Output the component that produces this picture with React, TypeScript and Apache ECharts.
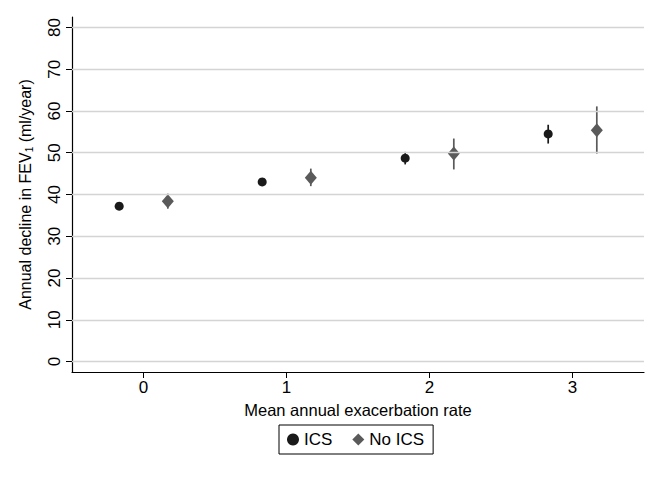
import React, { useEffect, useRef } from "react";
import * as echarts from "echarts";

const yTicks = [0, 10, 20, 30, 40, 50, 60, 70, 80];
const xTicks = [0, 1, 2, 3];

const icsX = [-0.17, 0.83, 1.83, 2.83];
const icsMean = [37.2, 43.0, 48.7, 54.5];
const icsLow = [36.6, 42.4, 47.2, 52.2];
const icsHigh = [37.8, 43.6, 50.2, 56.7];

const noIcsX = [0.17, 1.17, 2.17, 3.17];
const noIcsMean = [38.4, 44.0, 49.8, 55.4];
const noIcsLow = [36.6, 42.0, 46.0, 49.8];
const noIcsHigh = [40.2, 46.2, 53.4, 61.1];

const ICS_COLOR = "#1a1a1a";
const NOICS_COLOR = "#5a5a5a";
const FONT = "Liberation Sans, Arial, Helvetica, sans-serif";

function errorSeries(xs: number[], lo: number[], hi: number[], color: string) {
  return {
    type: "custom",
    silent: true,
    z: 2,
    data: xs.map((x, i) => [x, lo[i], hi[i]]),
    renderItem: (_params: any, api: any) => {
      const p1 = api.coord([api.value(0), api.value(1)]);
      const p2 = api.coord([api.value(0), api.value(2)]);
      return {
        type: "line",
        shape: { x1: p1[0], y1: p1[1], x2: p2[0], y2: p2[1] },
        style: { stroke: color, lineWidth: 1.7 },
      };
    },
  };
}

export default function App() {
  const ref = useRef<HTMLDivElement>(null);
  useEffect(() => {
    if (!ref.current) return;
    const chart = echarts.init(ref.current, undefined, { renderer: "svg" });
    chart.setOption({
      animation: false,
      textStyle: { fontFamily: FONT },
      grid: { left: 72, right: 16, top: 17, bottom: 108 },
      legend: {
        left: 279,
        top: 425,
        itemGap: 20,
        itemWidth: 12,
        itemHeight: 12,
        padding: [6, 9, 6, 8],
        borderColor: "#000",
        borderWidth: 1,
        textStyle: { fontSize: 17, color: "#000", fontFamily: FONT },
        data: [
          { name: "ICS", icon: "circle", itemStyle: { color: ICS_COLOR } },
          { name: "No ICS", icon: "diamond", itemStyle: { color: NOICS_COLOR } },
        ],
      },
      xAxis: {
        type: "value",
        min: -0.5,
        max: 3.5,
        interval: 0.5,
        name: "Mean annual exacerbation rate",
        nameLocation: "middle",
        nameGap: 29,
        nameTextStyle: { fontSize: 16.5, color: "#000", fontFamily: FONT },
        axisLine: { show: true, onZero: false, lineStyle: { color: "#000", width: 1.2 } },
        axisTick: {
          show: true,
          length: 6,
          lineStyle: { color: "#000" },
          customValues: xTicks,
        },
        axisLabel: {
          fontSize: 17,
          color: "#000",
          margin: 7,
          customValues: xTicks,
          formatter: (v: number) => String(v),
        },
        splitLine: { show: false },
      },
      yAxis: {
        type: "value",
        min: -2.5,
        max: 82.5,
        name: "Annual decline in FEV{sub|1} (ml/year)",
        nameLocation: "middle",
        nameGap: 38,
        nameTextStyle: {
          fontSize: 16,
          color: "#000",
          fontFamily: FONT,
          rich: {
            sub: { fontSize: 10, verticalAlign: "bottom", padding: [8, 0, 0, 0], color: "#000", fontFamily: FONT },
          },
        },
        axisLine: { show: true, onZero: false, lineStyle: { color: "#000", width: 1.2 } },
        axisTick: {
          show: true,
          length: 6,
          lineStyle: { color: "#000" },
          customValues: yTicks,
        },
        axisLabel: {
          fontSize: 17,
          color: "#000",
          rotate: 90,
          margin: 9,
          customValues: yTicks,
          formatter: (v: number) => String(v),
        },
        splitLine: { show: false },
      },
      series: [
        {
          type: "line",
          silent: true,
          data: [],
          markLine: {
            silent: true,
            symbol: "none",
            label: { show: false },
            lineStyle: { color: "#d4d4d4", width: 1.3, type: "solid" },
            data: yTicks.map((v) => ({ yAxis: v })),
          },
        },
        errorSeries(icsX, icsLow, icsHigh, ICS_COLOR),
        errorSeries(noIcsX, noIcsLow, noIcsHigh, NOICS_COLOR),
        {
          name: "ICS",
          type: "scatter",
          symbol: "circle",
          symbolSize: 9,
          z: 3,
          itemStyle: { color: ICS_COLOR, opacity: 1 },
          data: icsX.map((x, i) => [x, icsMean[i]]),
        },
        {
          name: "No ICS",
          type: "scatter",
          symbol: "diamond",
          symbolSize: [12, 14],
          z: 3,
          itemStyle: { color: NOICS_COLOR, opacity: 1 },
          data: noIcsX.map((x, i) => [x, noIcsMean[i]]),
        },
      ],
    });
    return () => chart.dispose();
  }, []);
  return (
    <div
      ref={ref}
      style={{ position: "fixed", left: 0, top: 0, width: 660, height: 480, background: "#fff" }}
    />
  );
}
